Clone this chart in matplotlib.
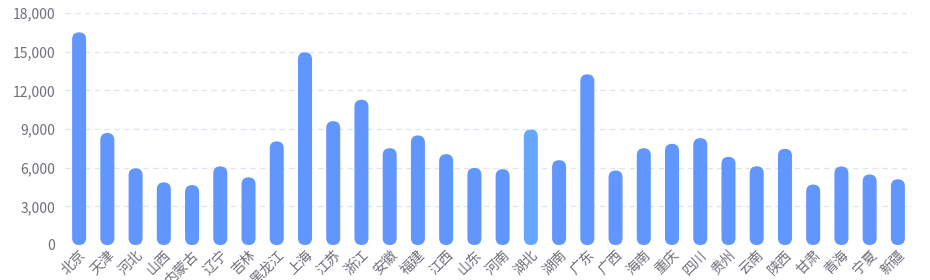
import numpy as np
import matplotlib
matplotlib.use('Agg')
import matplotlib.pyplot as plt
from matplotlib.patches import FancyBboxPatch

plt.rcParams['font.family'] = ['Noto Sans CJK SC', 'DejaVu Sans']

provinces = ['北京', '天津', '河北', '山西', '内蒙古', '辽宁', '吉林', '黑龙江', '上海', '江苏',
             '浙江', '安徽', '福建', '江西', '山东', '河南', '湖北', '湖南', '广东', '广西',
             '海南', '重庆', '四川', '贵州', '云南', '陕西', '甘肃', '青海', '宁夏', '新疆']
values = [16500, 8690, 5950, 4860, 4650, 6100, 5250, 8040, 14950, 9610,
          11270, 7510, 8500, 7050, 5980, 5880, 8960, 6580, 13240, 5780,
          7510, 7850, 8290, 6840, 6110, 7460, 4690, 6090, 5470, 5100]
highlight = '湖北'
yticks = [0, 3000, 6000, 9000, 12000, 15000, 18000]

bar_col = '#6096fe'
hl_col = '#66a6ff'
txt_col = '#6e7079'
grid_col = '#e0e6f1'

fig = plt.figure(figsize=(9.3, 2.8), dpi=100)
ax = fig.add_axes([65/930, 1 - 245/280, (912 - 65)/930, (245 - 13)/280])

x = np.arange(len(provinces))
ax.set_xlim(-0.5, len(provinces) - 0.5)
ax.set_ylim(0, 18000)

# data units per pixel, used to make round caps circular
p0 = ax.transData.transform((0, 0))
p1 = ax.transData.transform((1, 1000))
xu = 1 / (p1[0] - p0[0])
yu = 1000 / (p1[1] - p0[1])
aspect = yu / xu

w = 14 * xu
for xi, v, name in zip(x, values, provinces):
    c = hl_col if name == highlight else bar_col
    patch = FancyBboxPatch((xi - w/2, 0), w, v,
                           boxstyle='round,pad=0,rounding_size=%f' % (w/2 - 1e-6),
                           mutation_aspect=aspect, fc=c, ec='none', zorder=3)
    ax.add_patch(patch)

ax.set_yticks(yticks)
ax.set_yticklabels(['{:,}'.format(t) for t in yticks])
ax.set_xticks(x)
ax.set_xticklabels(provinces, rotation=45, ha='right', rotation_mode='anchor')
ax.tick_params(axis='both', length=0, colors=txt_col, labelsize=10)
ax.tick_params(axis='y', pad=7)
ax.tick_params(axis='x', pad=2)

ax.grid(axis='y', color=grid_col, linestyle=(0, (4, 3)), linewidth=1, zorder=0)
for s in ax.spines.values():
    s.set_visible(False)

fig.savefig('out.png', dpi=100)
